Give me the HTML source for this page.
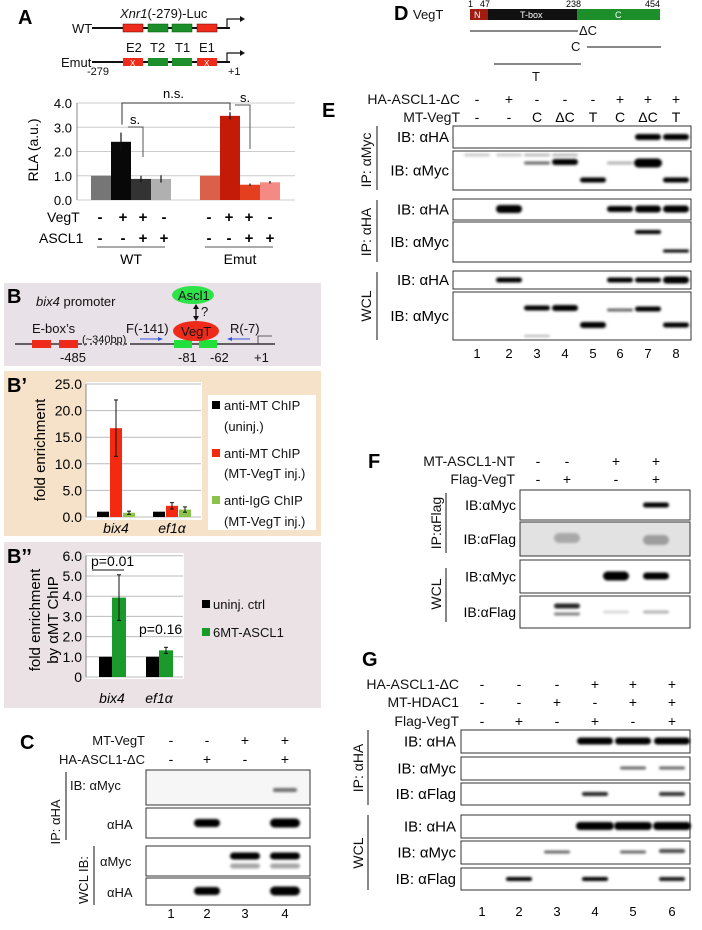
<!DOCTYPE html>
<html><head><meta charset="utf-8">
<style>
html,body{margin:0;padding:0;background:#fff;}
svg{display:block;font-family:"Liberation Sans",Arial,sans-serif;}
.pl{font-weight:bold;font-size:20px;}
.t{font-size:13px;fill:#111;}
.h{font-size:14px;fill:#111;}
.s{font-size:11px;fill:#111;}
</style></head>
<body>
<svg id="fig" width="702" height="930" viewBox="0 0 702 930">
<defs>
<filter id="bl" x="-20%" y="-100%" width="140%" height="300%"><feGaussianBlur stdDeviation="1.2"/></filter>
</defs>

<g>
<text class="pl" x="18" y="24">A</text>
<text class="t" x="120" y="18"><tspan font-style="italic">Xnr1</tspan>(-279)-Luc</text>
<text class="t" x="72" y="33">WT</text>
<line x1="92" y1="28" x2="230" y2="28" stroke="#111" stroke-width="2"/>
<rect x="123" y="24" width="20" height="8" fill="#ee2b1b" stroke="#600" stroke-width="0.5"/>
<rect x="148" y="24" width="20" height="8" fill="#1d8f2a" stroke="#050" stroke-width="0.5"/>
<rect x="172" y="24" width="20" height="8" fill="#1d8f2a" stroke="#050" stroke-width="0.5"/>
<rect x="197" y="24" width="20" height="8" fill="#ee2b1b" stroke="#600" stroke-width="0.5"/>
<path d="M227 28 V19 H243" fill="none" stroke="#111" stroke-width="1.2"/><path d="M240 16 L245 19 L240 22Z" fill="#111"/>
<text class="t" x="126" y="52">E2</text><text class="t" x="150" y="52">T2</text><text class="t" x="175" y="52">T1</text><text class="t" x="199" y="52">E1</text>
<text class="t" x="61" y="67">Emut</text>
<line x1="92" y1="62" x2="230" y2="62" stroke="#111" stroke-width="2"/>
<rect x="123" y="58" width="20" height="8" fill="#ee2b1b"/><text x="130" y="66" font-size="8" fill="#fff">X</text>
<rect x="148" y="58" width="20" height="8" fill="#1d8f2a"/>
<rect x="172" y="58" width="20" height="8" fill="#1d8f2a"/>
<rect x="197" y="58" width="20" height="8" fill="#ee2b1b"/><text x="204" y="66" font-size="8" fill="#fff">X</text>
<path d="M227 62 V53 H243" fill="none" stroke="#111" stroke-width="1.2"/><path d="M240 50 L245 53 L240 56Z" fill="#111"/>
<text class="s" x="87" y="75">-279</text><text class="s" x="228" y="75">+1</text>
<g id="chartA"></g>
</g>

<g>
<rect x="4" y="283" width="317" height="83" fill="#e8e1e7"/>
<text class="pl" x="7" y="303">B</text>
<text class="t" x="36" y="306"><tspan font-style="italic">bix4</tspan> promoter</text>
<ellipse cx="193" cy="295" rx="21" ry="9" fill="#2ee34a"/>
<text class="t" x="178" y="300">Ascl1</text>
<line x1="196" y1="306" x2="196" y2="319" stroke="#111" stroke-width="1.3"/>
<path d="M193 309 L196 304 L199 309Z M193 316 L196 321 L199 316Z" fill="#111"/>
<text class="t" x="201" y="316">?</text>
<line x1="15" y1="344" x2="130" y2="344" stroke="#111" stroke-width="1.2"/>
<line x1="82" y1="344" x2="130" y2="344" stroke="#fff" stroke-width="1.4" stroke-dasharray="3,2"/>
<line x1="130" y1="344" x2="275" y2="344" stroke="#111" stroke-width="1.2"/>
<rect x="32" y="340" width="19" height="8" fill="#ee2b1b"/><rect x="59" y="340" width="19" height="8" fill="#ee2b1b"/>
<rect x="174" y="340" width="18" height="8" fill="#22e03a"/><rect x="199" y="340" width="18" height="8" fill="#22e03a"/>
<ellipse cx="196" cy="331" rx="23" ry="10" fill="#ee2b1b"/>
<text class="t" x="181" y="336">VegT</text>
<text class="t" x="32" y="333">E-box’s</text>
<text class="s" x="82" y="343">(~340bp)</text>
<text class="t" x="126" y="333">F(-141)</text><text class="t" x="230" y="333">R(-7)</text>
<line x1="140" y1="339" x2="161" y2="339" stroke="#3355dd"/><path d="M158 337 L163 339 L158 341Z" fill="#3355dd"/>
<line x1="229" y1="339" x2="250" y2="339" stroke="#3355dd"/><path d="M232 337 L227 339 L232 341Z" fill="#3355dd"/>
<path d="M258 344 V336 H272" fill="none" stroke="#333" stroke-width="0.8"/>
<text class="t" x="60" y="362">-485</text><text class="t" x="178" y="362">-81</text><text class="t" x="210" y="362">-62</text><text class="t" x="254" y="362">+1</text>
</g>

<g>
<rect x="4" y="371" width="317" height="165" fill="#f5e2c9"/>
<text class="pl" x="7" y="392">B’</text>
<rect x="86" y="382" width="116" height="138" fill="#fff"/>
<g id="chartB1"></g>
<rect x="208" y="395" width="108" height="135" fill="#fff"/>
<g><rect x="212" y="401" width="8" height="8" fill="#000"/><text class="t" x="224" y="410">anti-MT ChIP</text><text class="t" x="224" y="431">(uninj.)</text></g>
<g><rect x="212" y="449" width="8" height="8" fill="#f42a10"/><text class="t" x="224" y="458">anti-MT ChIP</text><text class="t" x="224" y="478">(MT-VegT inj.)</text></g>
<g><rect x="212" y="496" width="8" height="8" fill="#8cc34a"/><text class="t" x="224" y="505">anti-IgG ChIP</text><text class="t" x="224" y="526">(MT-VegT inj.)</text></g>
</g>

<g>
<rect x="4" y="542" width="317" height="166" fill="#ebe2e6"/>
<text class="pl" x="7" y="563">B’’</text>
<rect x="86" y="553" width="98" height="126" fill="#fff"/>
<g id="chartB2"></g>
<g><rect x="202" y="600" width="8" height="8" fill="#000"/><text class="t" x="213" y="609">uninj. ctrl</text></g>
<g><rect x="202" y="628" width="8" height="8" fill="#1a9a2a"/><text class="t" x="213" y="637">6MT-ASCL1</text></g>
</g>

<g id="panelC">
<text class="pl" x="20" y="749">C</text>
<text class="t" x="145" y="745" text-anchor="end">MT-VegT</text>
<text class="t" x="145" y="764" text-anchor="end">HA-ASCL1-ΔC</text>
<text class="t" x="60" y="822" transform="rotate(-90 60 822)" text-anchor="middle">IP: αHA</text>
<line x1="66" y1="772" x2="66" y2="840" stroke="#111"/>
<text class="t" x="70" y="790">IB: αMyc</text><text class="t" x="107" y="829">αHA</text>
<text class="t" x="88" y="880" transform="rotate(-90 88 880)" text-anchor="middle">WCL IB:</text>
<line x1="94" y1="846" x2="94" y2="905" stroke="#111"/>
<text class="t" x="100" y="866">αMyc</text><text class="t" x="107" y="897">αHA</text>
</g>

<g>
<text class="pl" x="394" y="20">D</text>
<text class="t" x="413" y="19">VegT</text>
<rect x="470" y="9" width="18" height="11" fill="#a01c10"/>
<rect x="488" y="9" width="89" height="11" fill="#111"/>
<rect x="577" y="9" width="83" height="11" fill="#1d8f2a"/>
<text x="474" y="18" font-size="9" fill="#fff">N</text><text x="520" y="18" font-size="9" fill="#fff">T-box</text><text x="615" y="18" font-size="9" fill="#fff">C</text>
<text x="468" y="7" font-size="9">1</text><text x="480" y="7" font-size="9">47</text><text x="566" y="7" font-size="9">238</text><text x="645" y="7" font-size="9">454</text>
<line x1="470" y1="31" x2="578" y2="31" stroke="#111"/><text class="t" x="579" y="35">ΔC</text>
<line x1="587" y1="47" x2="661" y2="47" stroke="#111"/><text class="t" x="571" y="51">C</text>
<line x1="494" y1="64" x2="581" y2="64" stroke="#111"/><text class="t" x="532" y="81">T</text>
</g>

<g id="panelE">
<text class="pl" x="322" y="117">E</text>
<text class="h" x="460" y="104" text-anchor="end">HA-ASCL1-ΔC</text>
<text class="h" x="460" y="122" text-anchor="end">MT-VegT</text>
<text class="h" x="371" y="160" transform="rotate(-90 371 160)" text-anchor="middle">IP: αMyc</text>
<line x1="377" y1="126" x2="377" y2="190" stroke="#111"/>
<text class="h" x="371" y="232" transform="rotate(-90 371 232)" text-anchor="middle">IP: αHA</text>
<line x1="377" y1="200" x2="377" y2="262" stroke="#111"/>
<text class="h" x="371" y="306" transform="rotate(-90 371 306)" text-anchor="middle">WCL</text>
<line x1="377" y1="272" x2="377" y2="340" stroke="#111"/>
</g>

<g id="panelF">
<text class="pl" x="368" y="468">F</text>
<text class="h" x="515" y="466" text-anchor="end">MT-ASCL1-NT</text>
<text class="h" x="515" y="484" text-anchor="end">Flag-VegT</text>
<text class="h" x="441" y="523" transform="rotate(-90 441 523)" text-anchor="middle">IP:αFlag</text>
<line x1="446" y1="493" x2="446" y2="553" stroke="#111"/>
<text class="h" x="441" y="594" transform="rotate(-90 441 594)" text-anchor="middle">WCL</text>
<line x1="446" y1="568" x2="446" y2="622" stroke="#111"/>
</g>

<g id="panelG">
<text class="pl" x="362" y="666">G</text>
<text class="h" x="459" y="689" text-anchor="end">HA-ASCL1-ΔC</text>
<text class="h" x="459" y="707" text-anchor="end">MT-HDAC1</text>
<text class="h" x="459" y="726" text-anchor="end">Flag-VegT</text>
<text class="h" x="363" y="768" transform="rotate(-90 363 768)" text-anchor="middle">IP: αHA</text>
<line x1="368" y1="730" x2="368" y2="805" stroke="#111"/>
<text class="h" x="363" y="853" transform="rotate(-90 363 853)" text-anchor="middle">WCL</text>
<line x1="368" y1="815" x2="368" y2="890" stroke="#111"/>
</g>
</svg>

<script>
const aTicks = [0, 1, 2, 3, 4];
const aTickLabels = ["0.0","1.0","2.0","3.0","4.0"];
const aWTValues = [1.0, 2.4, 0.87, 0.87];
const aWTErrors = [0, 0.38, 0.13, 0.15];
const aEmutValues = [1.0, 3.47, 0.63, 0.73];
const aEmutErrors = [0, 0.15, 0.05, 0.05];
const aVegT = ["-","+","+","-"];
const aASCL1 = ["-","-","+","+"];
const b1Categories = ["bix4", "ef1α"];
const b1Uninj = [1.0, 1.0];
const b1MT = [16.7, 2.1];
const b1MTErr = [5.3, 0.6];
const b1IgG = [0.8, 1.4];
const b1IgGErr = [0.3, 0.5];
const b1Ticks = [0, 5, 10, 15, 20, 25];
const b1TickLabels = ["0.0","5.0","10.0","15.0","20.0","25.0"];
const b2Categories = ["bix4", "ef1α"];
const b2Ctrl = [1.0, 1.0];
const b2ASCL1 = [3.93, 1.32];
const b2ASCL1Err = [1.13, 0.15];
const b2Ticks = [0, 1, 2, 3, 4, 5, 6];
const b2TickLabels = ["0","1.0","2.0","3.0","4.0","5.0","6.0"];

const NS = "http://www.w3.org/2000/svg";
function mk(tag, attrs, parent, text) {
  const e = document.createElementNS(NS, tag);
  for (const k in attrs) e.setAttribute(k, attrs[k]);
  if (text !== undefined) e.textContent = text;
  parent.appendChild(e);
  return e;
}

(function(){
  const g = document.getElementById('chartA');
  const y = v => 200 - v * 24.25;
  aTicks.forEach((t,i) => {
    const ln = mk('line',{x1:77,x2:295,y1:y(t),y2:y(t),stroke:'#ccc'},g);
    
    
    const tx = mk('text',{x:72,y:y(t)+5,'text-anchor':'end','font-size':13},g,aTickLabels[i]);
    
    
  });
  mk('line',{x1:77,x2:77,y1:y(4),y2:200,stroke:'#888'},g);
  const t = mk('text',{x:38,y:150,'font-size':14,'text-anchor':'middle',transform:'rotate(-90 38 150)'},g,'RLA (a.u.)');
  
  
  const wtCol = ['#767676','#080808','#333333','#b0b0b0'];
  const emCol = ['#da6049','#c41a08','#e4401f','#f58a85'];
  function grp(vals, errs, cols, x0, name) {
    vals.forEach((v,i) => {
      const x = x0 + i*20;
      const r = mk('rect',{x:x,y:y(v),width:20,height:200-y(v),fill:cols[i]},g);
      
      
      if (errs[i] > 0) mk('line',{x1:x+10,x2:x+10,y1:y(v+errs[i]),y2:y(v-errs[i]),stroke:'#111','stroke-width':1.2},g);
    });
  }
  grp(aWTValues, aWTErrors, wtCol, 91, 'wt');
  grp(aEmutValues, aEmutErrors, emCol, 200, 'emut');
  mk('path',{d:`M122 ${y(aWTValues[1]+aWTErrors[1])-8} V${y(4)} H230 V${y(aEmutValues[1]+aEmutErrors[1])-2}`,fill:'none',stroke:'#333'},g);
  mk('text',{x:163,y:98,'font-size':13},g,'n.s.');
  mk('path',{d:`M128 127 H143 V157`,fill:'none',stroke:'#555'},g);
  mk('text',{x:130,y:124,'font-size':13},g,'s.');
  mk('path',{d:`M235 105 H250 V149`,fill:'none',stroke:'#555'},g);
  mk('text',{x:240,y:102,'font-size':13},g,'s.');
  mk('text',{x:47,y:222,'font-size':14},g,'VegT');
  mk('text',{x:39,y:243,'font-size':14},g,'ASCL1');
  [97,120,140,161].forEach((x,i)=>{
    mk('text',{x:x+3,y:222,'font-size':15,'font-weight':'bold','text-anchor':'middle'},g,aVegT[i]);
    mk('text',{x:x+3,y:243,'font-size':15,'font-weight':'bold','text-anchor':'middle'},g,aASCL1[i]);
  });
  [209,229,249,270].forEach((x,i)=>{
    mk('text',{x:x,y:222,'font-size':15,'font-weight':'bold','text-anchor':'middle'},g,aVegT[i]);
    mk('text',{x:x,y:243,'font-size':15,'font-weight':'bold','text-anchor':'middle'},g,aASCL1[i]);
  });
  mk('line',{x1:97,x2:165,y1:247,y2:247,stroke:'#555'},g);
  mk('line',{x1:205,x2:273,y1:247,y2:247,stroke:'#555'},g);
  mk('text',{x:131,y:264,'font-size':14,'text-anchor':'middle'},g,'WT');
  mk('text',{x:240,y:264,'font-size':14,'text-anchor':'middle'},g,'Emut');
})();

(function(){
  const g = document.getElementById('chartB1');
  const y = v => 517 - v * 5.32;
  b1Ticks.forEach((t,i)=>{
    mk('line',{x1:86,x2:201,y1:y(t),y2:y(t),stroke:'#bbb'},g);
    const tx = mk('text',{x:82,y:y(t)+5,'text-anchor':'end','font-size':14},g,b1TickLabels[i]);
    
    
  });
  mk('line',{x1:86,x2:86,y1:y(25),y2:517,stroke:'#888'},g);
  const t = mk('text',{x:45,y:450,'font-size':15,'text-anchor':'middle',transform:'rotate(-90 45 450)'},g,'fold enrichment');
  
  
  const centers = [116, 172];
  b1Categories.forEach((c,i)=>{
    const cx = centers[i];
    const series = [[b1Uninj[i],0,'#000'],[b1MT[i],b1MTErr[i],'#f42a10'],[b1IgG[i],b1IgGErr[i],'#8cc34a']];
    series.forEach((s,j)=>{
      const x = cx - 19 + j*13;
      const r = mk('rect',{x:x,y:y(s[0]),width:12,height:517-y(s[0]),fill:s[2]},g);
      
      
      if (s[1]>0) {
        mk('line',{x1:x+6,x2:x+6,y1:y(s[0]+s[1]),y2:y(s[0]-s[1]),stroke:'#111'},g);
        mk('line',{x1:x+4,x2:x+8,y1:y(s[0]+s[1]),y2:y(s[0]+s[1]),stroke:'#111'},g);
        mk('line',{x1:x+4,x2:x+8,y1:y(s[0]-s[1]),y2:y(s[0]-s[1]),stroke:'#111'},g);
      }
    });
    const lb = mk('text',{x:cx,y:533,'font-size':14,'font-style':'italic','text-anchor':'middle'},g,c);
    
    
  });
})();

(function(){
  const g = document.getElementById('chartB2');
  const y = v => 677 - v * 20.2;
  b2Ticks.forEach((t,i)=>{
    mk('line',{x1:86,x2:183,y1:y(t),y2:y(t),stroke:'#bbb'},g);
    const tx = mk('text',{x:82,y:y(t)+5,'text-anchor':'end','font-size':14},g,b2TickLabels[i]);
    
    
  });
  mk('line',{x1:86,x2:86,y1:y(6),y2:677,stroke:'#888'},g);
  const t = mk('text',{x:40,y:620,'font-size':15,'text-anchor':'middle',transform:'rotate(-90 40 620)'},g,'fold enrichment');
  
  
  mk('text',{x:58,y:620,'font-size':15,'text-anchor':'middle',transform:'rotate(-90 58 620)'},g,'by αMT ChIP');
  const centers = [112, 159];
  b2Categories.forEach((c,i)=>{
    const cx = centers[i];
    const r1 = mk('rect',{x:cx-13,y:y(b2Ctrl[i]),width:13,height:677-y(b2Ctrl[i]),fill:'#000'},g);
    
    
    const r2 = mk('rect',{x:cx,y:y(b2ASCL1[i]),width:14,height:677-y(b2ASCL1[i]),fill:'#1a9a2a'},g);
    
    
    const e = b2ASCL1Err[i], v = b2ASCL1[i];
    mk('line',{x1:cx+7,x2:cx+7,y1:y(v+e),y2:y(v-e),stroke:'#111'},g);
    mk('line',{x1:cx+5,x2:cx+9,y1:y(v+e),y2:y(v+e),stroke:'#111'},g);
    mk('line',{x1:cx+5,x2:cx+9,y1:y(v-e),y2:y(v-e),stroke:'#111'},g);
    const lb = mk('text',{x:cx,y:703,'font-size':14,'font-style':'italic','text-anchor':'middle'},g,c);
    
    
  });
  mk('text',{x:91,y:566,'font-size':14},g,'p=0.01');
  mk('line',{x1:92,x2:124,y1:570,y2:570,stroke:'#111'},g);
  mk('text',{x:139,y:634,'font-size':14},g,'p=0.16');
})();

function blotPanel(gid, lanesX, signRows, signY, boxes, bx0, bx1, numY, lfs) {
  const g = document.getElementById(gid);
  signRows.forEach((row,ri)=>{
    row.forEach((s,li)=>{
      mk('text',{x:lanesX[li],y:signY[ri],'font-size':14,'text-anchor':'middle'},g,s);
    });
  });
  boxes.forEach(b=>{
    const r = mk('rect',{x:bx0,y:b.y0,width:bx1-bx0,height:b.y1-b.y0,fill:b.bg||'#fff',stroke:'#333'},g);
    
    
    if (b.label) mk('text',{x:b.lx,y:(b.y0+b.y1)/2+5,'font-size':lfs||14,'text-anchor':'end'},g,b.label);
    b.bands.forEach(bd=>{
      const lane = bd[0], yy = bd[1], h = bd[2], op = bd[3], w = bd[4] || 26;
      mk('rect',{x:lanesX[lane]-w/2,y:yy-h/2,width:w,height:h,rx:h/2,fill:'#000',opacity:op,filter:'url(#bl)'},g);
    });
  });
  if (numY) lanesX.forEach((x,i)=> mk('text',{x:x,y:numY,'font-size':13,'text-anchor':'middle'},g,String(i+1)));
}

blotPanel('panelC',[171,207,245,285],[["-","-","+","+"],["-","+","-","+"]],[745,764],[
  {y0:770,y1:805,bg:'#f6f6f6',bands:[[3,790,4,0.55,24]]},
  {y0:808,y1:838,bands:[[1,823,8,1],[3,823,9,1,30]]},
  {y0:846,y1:876,bands:[[2,856,7,1,30],[3,856,7,1,30],[2,866,5,0.35,30],[3,866,5,0.35,30]]},
  {y0:878,y1:905,bands:[[1,891,8,1],[3,891,9,1,30]]}
],146,310,918);

blotPanel('panelE',[477,509,537,565,593,620,648,676],
  [["-","+","-","-","-","+","+","+"],["-","-","C","ΔC","T","C","ΔC","T"]],[104,122],[
  {y0:126,y1:148,label:'IB: αHA',lx:449,bands:[[6,137,6,1],[7,137,6,1]]},
  {y0:151,y1:190,label:'IB: αMyc',lx:449,bands:[[0,155,3,0.2],[1,155,3,0.2],[2,155,3,0.25],[3,155,3,0.25],[2,163,3,0.6],[3,162,6,1],[4,180,5,1],[6,163,9,1,28],[7,180,5,1],[5,163,3,0.3]]},
  {y0:199,y1:220,label:'IB: αHA',lx:449,bands:[[1,209,8,1],[5,209,6,1],[6,209,7,1],[7,209,7,1]]},
  {y0:222,y1:262,label:'IB: αMyc',lx:449,bands:[[6,232,4,1],[7,251,3,1]]},
  {y0:271,y1:289,label:'IB: αHA',lx:449,bands:[[1,280,5,1],[5,280,5,1],[6,280,5,1],[7,280,7,1]]},
  {y0:292,y1:340,label:'IB: αMyc',lx:449,bands:[[2,308,5,1],[3,308,6,1],[4,325,6,1],[5,310,3,0.6],[6,309,5,1],[7,325,5,1],[2,336,2,0.3]]}
],453,691,358,15);

blotPanel('panelF',[538,567,616,656],[["-","-","+","+"],["-","+","-","+"]],[466,484],[
  {y0:490,y1:520,label:'IB:αMyc',lx:516,bands:[[3,505,5,1]]},
  {y0:522,y1:556,bg:'#e2e2e2',label:'IB:αFlag',lx:516,bands:[[1,538,10,0.25],[3,540,10,0.3]]},
  {y0:560,y1:593,label:'IB:αMyc',lx:516,bands:[[2,576,9,1],[3,576,7,1]]},
  {y0:596,y1:628,label:'IB:αFlag',lx:516,bands:[[1,606,5,0.85],[1,614,3,0.5],[2,612,3,0.15],[3,612,3,0.3]]}
],520,690,null);

blotPanel('panelG',[482,519,557,595,633,672],
  [["-","-","-","+","+","+"],["-","-","+","-","+","+"],["-","+","-","+","-","+"]],[689,707,726],[
  {y0:730,y1:753,label:'IB: αHA',lx:456,bands:[[3,741,7,1,36],[4,741,7,1,36],[5,741,7,1,36]]},
  {y0:757,y1:780,label:'IB: αMyc',lx:456,bands:[[4,768,3,0.6],[5,768,3,0.6]]},
  {y0:783,y1:805,label:'IB: αFlag',lx:456,bands:[[3,794,4,0.85],[5,794,4,0.8]]},
  {y0:815,y1:838,label:'IB: αHA',lx:456,bands:[[3,826,8,1,38],[4,826,8,1,38],[5,826,8,1,38]]},
  {y0:841,y1:864,label:'IB: αMyc',lx:456,bands:[[2,852,3,0.6],[4,852,3,0.6],[5,851,4,0.7]]},
  {y0:868,y1:890,label:'IB: αFlag',lx:456,bands:[[1,879,4,1],[3,879,4,1],[5,879,4,0.9]]}
],461,690,916,15);
</script>
</body></html>
